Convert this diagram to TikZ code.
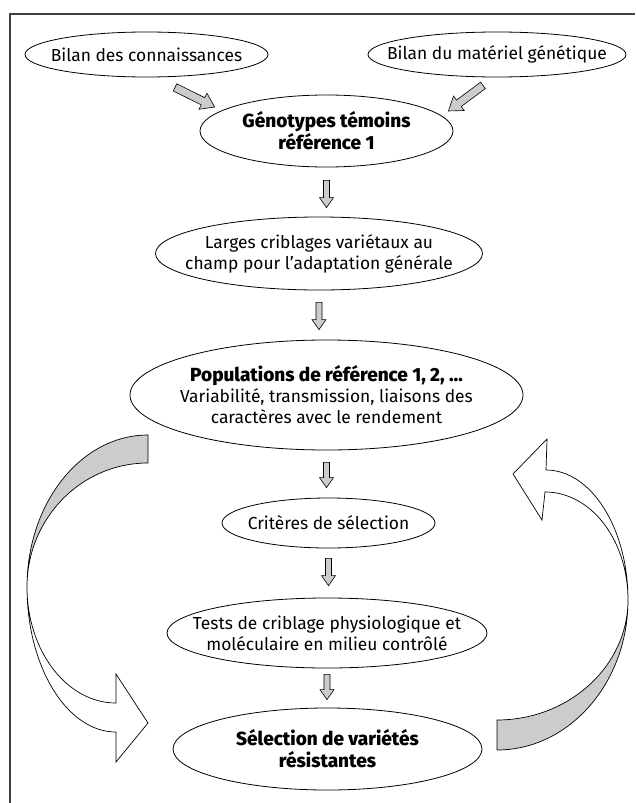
\documentclass[tikz,border=0pt]{standalone}
\usepackage{fontspec}
\setmainfont{Fira Sans}[BoldFont={Fira Sans ExtraBold}]
\usetikzlibrary{calc}
\usetikzlibrary{shapes.geometric}

\tikzset{
 bulle/.style={draw, ellipse, line width=0.8pt, inner xsep=-50pt, inner ysep=-12pt, align=center, font=\fontsize{17.4}{21}\selectfont},
 titre/.style={font=\fontsize{19}{22}\selectfont\bfseries},
 fleche/.style={fill=gray!40, draw=black, line width=0.6pt, line join=miter},
 ruban/.style={draw=black, line width=0.7pt}
}
% gros trait creux : depart, arrivee, demi-largeur, demi-tete, longueur tete
\newcommand{\grossefleche}[5]{
 \coordinate (fq) at ($(#2)!#5!(#1)$);
 \filldraw[fleche] ($(#1)!#3!90:(#2)$) -- ($(fq)!#3!90:(#2)$) -- ($(fq)!#4!90:(#2)$) -- (#2)
   -- ($(fq)!#4!-90:(#2)$) -- ($(fq)!#3!-90:(#2)$) -- ($(#1)!#3!-90:(#2)$) -- cycle;
}

\begin{document}
\begin{tikzpicture}[x=1pt, y=-1pt]
\useasboundingbox (0,0) rectangle (635,803);
\draw[line width=1.3pt, black!75] (10,803) -- (10,14) -- (635,14);

\node[bulle, minimum width=243pt, minimum height=45pt] (con) at (146.5,54.5) {Bilan des connaissances};
\node[bulle, minimum width=258pt, minimum height=45pt] (mat) at (497,54.5) {Bilan du matériel génétique};
\node[bulle, titre, minimum width=253pt, minimum height=72pt] (gen) at (326.5,131) {Génotypes témoins\\référence 1};
\node[bulle, minimum width=327pt, minimum height=73pt] (lar) at (319,253.5) {Larges criblages variétaux au\\champ pour l’adaptation générale};
\node[bulle, minimum width=393pt, minimum height=110pt] (pop) at (326.5,395) {{\fontsize{19}{22}\selectfont\bfseries Populations de référence 1, 2, …}\\[0pt]Variabilité, transmission, liaisons des\\caractères avec le rendement};
\node[bulle, minimum width=213pt, minimum height=50pt] (cri) at (328.5,523) {Critères de sélection};
\node[bulle, minimum width=320pt, minimum height=70pt] (tes) at (327,633) {Tests de criblage physiologique et\\moléculaire en milieu contrôlé};
\node[bulle, titre, minimum width=309pt, minimum height=82pt] (sel) at (327.5,749) {Sélection de variétés\\résistantes};

\coordinate (c1) at ([shift={(28.5,10)}]con.south);
\coordinate (c2) at ([shift={(15,-24)}]gen.west);
\grossefleche{c1}{c2}{4pt}{9pt}{13pt}
\coordinate (m1) at ([shift={(-14,8)}]mat.south);
\coordinate (m2) at ([shift={(-5,-20)}]gen.east);
\grossefleche{m1}{m2}{4pt}{9pt}{13pt}

\foreach \a/\b/\s/\e in {gen/lar/13/9, lar/pop/12/10, pop/cri/12/10, cri/tes/10/12, tes/sel/6/8}{
 \path (\a.south) ++(0,\s) coordinate (d1);
 \path (\a.south |- \b.north) ++(0,-\e) coordinate (d2);
 \grossefleche{d1}{d2}{3pt}{7pt}{10pt}
}

% boucle gauche
\filldraw[ruban, fill=gray!40] (148,435) .. controls (81,435) and (27,503) .. (27,587)
  .. controls (27,518.5) and (81,463) .. (148,463) -- cycle;
\filldraw[ruban, fill=white] (27,587) .. controls (27,667) and (67,732) .. (116,732) -- (116,762) -- (148,723)
  -- (116,674) -- (116,703) .. controls (67,703) and (27,651) .. (27,587) -- cycle;
% boucle droite
\filldraw[ruban, fill=gray!40] (497,750) .. controls (569,750) and (628,683) .. (628,600)
  .. controls (628,666) and (569,720) .. (497,720) -- cycle;
\filldraw[ruban, fill=white] (628,600) .. controls (628,528) and (591,470) .. (546,470) -- (547,439) -- (513,474)
  -- (542,520) -- (545,492) .. controls (591,492) and (628,540) .. (628,600) -- cycle;
\end{tikzpicture}
\end{document}
